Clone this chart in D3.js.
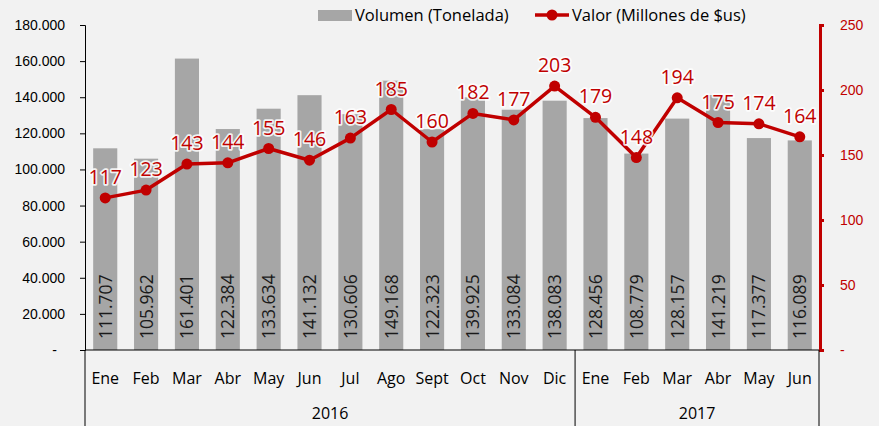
<!DOCTYPE html>
<html><head><meta charset="utf-8">
<script src="https://cdn.jsdelivr.net/npm/d3@7/dist/d3.min.js"></script>
<style>body{margin:0;background:#f2f2f2;}svg{display:block;font-family:"Open Sans","Noto Sans",sans-serif;}</style>
</head><body><svg id="c" width="879" height="426"></svg>
<script>
const months = ["Ene","Feb","Mar","Abr","May","Jun","Jul","Ago","Sept","Oct","Nov","Dic","Ene","Feb","Mar","Abr","May","Jun"];
const years = [{label:"2016", n:12},{label:"2017", n:6}];
const volumen = [111707,105962,161401,122384,133634,141132,130606,149168,122323,139925,133084,138083,128456,108779,128157,141219,117377,116089];
const valor = [117,123,143,144,155,146,163,185,160,182,177,203,179,148,194,175,174,164];
const leftTicks = [0,20000,40000,60000,80000,100000,120000,140000,160000,180000];
const rightTicks = [0,50,100,150,200,250];
const seriesNames = ["Volumen (Tonelada)","Valor (Millones de $us)"];

const svg = d3.select("#c");
const L=85, R=820, T=25, B=350;
const idx = months.map((d,i)=>i);
const x = d3.scaleBand().domain(idx).range([L,R]).paddingInner(0.41).paddingOuter(0.2);
const yL = d3.scaleLinear().domain([0,180000]).range([B,T]);
const yR = d3.scaleLinear().domain([0,250]).range([B,T]);
const red = "#c00000";
const gray = "#a6a6a6";
const fmt = v => v===0 ? "-" : d3.format(",")(v).replace(/,/g,".");
const cx = i => x(i)+x.bandwidth()/2;

svg.append("rect").attr("width",879).attr("height",426).attr("fill","#f2f2f2");

// bars
svg.append("g").selectAll("rect").data(volumen).join("rect")
  .attr("x",(d,i)=>x(i)).attr("width",x.bandwidth())
  .attr("y",d=>yL(d)).attr("height",d=>B-yL(d)).attr("fill",gray);

// bar labels
svg.append("g").selectAll("text").data(volumen).join("text")
  .attr("transform",(d,i)=>`translate(${cx(i)+6.5},339) rotate(-90)`)
  .attr("font-size",17.5).attr("fill","#1a1a1a").text(d=>fmt(d));

// left axis
const gL = svg.append("g").attr("transform",`translate(${L},0)`)
  .call(d3.axisLeft(yL).tickValues(leftTicks).tickFormat(fmt).tickSizeOuter(0).tickSize(5));
gL.select(".domain").attr("stroke","#000");
gL.selectAll("text").attr("font-size",14).attr("fill","#000").attr("x",-20)
  .filter(d=>d===0).attr("x",-28);

// right axis
const gR = svg.append("g").attr("transform",`translate(${R},0)`)
  .call(d3.axisRight(yR).tickValues(rightTicks).tickFormat(fmt).tickSizeOuter(0).tickSize(4));
gR.select(".domain").attr("stroke",red).attr("stroke-width",3);
gR.selectAll(".tick line").attr("stroke",red).attr("stroke-width",3);
gR.selectAll("text").attr("font-size",14).attr("fill",red).attr("x",20).attr("text-anchor","start");

// bottom axis line & separators
svg.append("line").attr("x1",L).attr("x2",R-1).attr("y1",B).attr("y2",B).attr("stroke","#000");
let acc=0;
const seps=[L];
years.forEach(yv=>{acc+=yv.n; seps.push(acc<months.length ? x(acc)-x.step()*x.paddingInner()/2 : R-1);});
svg.append("g").selectAll("line").data(seps).join("line")
  .attr("x1",d=>d).attr("x2",d=>d).attr("y1",B).attr("y2",426).attr("stroke","#000");

// month labels
svg.append("g").selectAll("text").data(months).join("text")
  .attr("x",(d,i)=>cx(i)).attr("y",384).attr("text-anchor","middle")
  .attr("font-size",16).attr("fill","#000").text(d=>d);

// year labels
svg.append("g").selectAll("text").data(years).join("text")
  .attr("x",(d,i)=>(seps[i]+seps[i+1])/2).attr("y",419).attr("text-anchor","middle")
  .attr("font-size",16).attr("fill","#000").text(d=>d.label);

// line
const line = d3.line().x((d,i)=>cx(i)).y(d=>yR(d));
svg.append("path").datum(valor).attr("d",line).attr("fill","none").attr("stroke",red).attr("stroke-width",3.5).attr("stroke-linejoin","round");
svg.append("g").selectAll("circle").data(valor).join("circle")
  .attr("cx",(d,i)=>cx(i)).attr("cy",d=>yR(d)).attr("r",5.5).attr("fill",red);

// value labels with soft white halo
svg.append("g").selectAll("text").data(valor).join("text")
  .attr("x",(d,i)=>cx(i)).attr("y",d=>yR(d)-14).attr("text-anchor","middle")
  .attr("font-size",19.5).attr("fill",red)
  .attr("stroke","#ffffff").attr("stroke-opacity",0.85).attr("stroke-width",3.5).attr("stroke-linejoin","round")
  .attr("paint-order","stroke").text(d=>d);

// legend
const lg = svg.append("g").attr("font-size",16.5).attr("fill","#000");
lg.append("rect").attr("x",318).attr("y",10).attr("width",34).attr("height",11).attr("fill",gray);
lg.append("text").attr("x",355).attr("y",21).text(seriesNames[0]);
lg.append("line").attr("x1",535).attr("x2",569).attr("y1",15).attr("y2",15).attr("stroke",red).attr("stroke-width",3.5);
lg.append("circle").attr("cx",552).attr("cy",15).attr("r",5.5).attr("fill",red);
lg.append("text").attr("x",572).attr("y",21).text(seriesNames[1]);
</script>
</body></html>
